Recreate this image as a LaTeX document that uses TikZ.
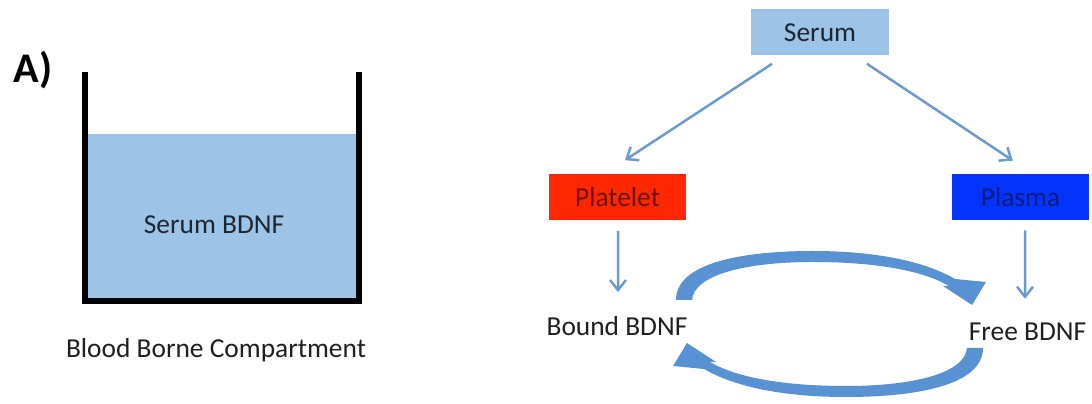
\documentclass[tikz,border=0pt]{standalone}
\usepackage{fontspec}
\setmainfont{Carlito}
\definecolor{mSerum}{HTML}{9DC3E6}
\definecolor{mRed}{HTML}{FF2600}
\definecolor{mBlue}{HTML}{0433FF}
\definecolor{mRedText}{HTML}{6A1400}
\definecolor{mBlueText}{HTML}{0A1D7A}
\definecolor{mDark}{HTML}{1C2633}
\definecolor{mLink}{HTML}{6A9AD0}
\definecolor{mCycle}{HTML}{5892D3}
\usetikzlibrary{positioning,arrows.meta,calc}

\begin{document}
\begin{tikzpicture}[x=0.02cm, y=-0.02cm, font=\fontsize{15.6}{19}\selectfont,
  box/.style={minimum width=2.76cm, minimum height=0.92cm, inner sep=0pt},
  lbl/.style={inner sep=0pt, text=black!88},
  link/.style={draw=mLink, line width=0.05cm, -{Straight Barb[length=0.2cm, width=0.32cm]}},
  cyc/.style={fill=mCycle, draw=none}]
\useasboundingbox (0,0) rectangle (1092,404);
% blood borne compartment
\fill[mSerum] (88,134) rectangle (356,299);
\draw[line width=0.12cm, miter limit=4] (85,72) -- (85,301.5) -- (359,301.5) -- (359,72);
\node[font=\fontsize{24}{28}\selectfont\bfseries] (lab) at (33,70) {A)};
\node[lbl, text=mDark] (sbdnf) at (214,225) {Serum BDNF};
\node[lbl] (comp) at (216,350) {Blood Borne Compartment};
% serum split
\node[box, fill=mSerum, text=mDark] (serum) at (820,32.5) {Serum};
\node[box, fill=mRed, text=mRedText] (platelet) at (617.5,197.5) {Platelet};
\node[box, fill=mBlue, text=mBlueText] (plasma) at (1020.5,197) {Plasma};
\node[lbl] (bound) at (617,326) {Bound BDNF};
\node[lbl] (free) at (1027.5,332) {Free BDNF};
\draw[link] ($(serum.south)+(-48,8)$) -- ($(platelet.north)+(7.5,-14)$);
\draw[link] ($(serum.south)+(47,8)$) -- ($(plasma.north)+(-7.5,-13)$);
\draw[link] ($(platelet.south)+(0.5,10)$) -- ($(bound.north)+(1,-24)$);
\draw[link] ($(plasma.south)+(4.5,10)$) -- ($(free.north)+(-2.5,-24)$);
% exchange
\fill[cyc] (676,300) .. controls (676,262) and (745,251) .. (813,251)
  .. controls (878,251) and (926,262) .. (955,279)
  -- (986,282) -- (972,305) -- (943,286) -- (949,286)
  .. controls (922,270) and (873,262) .. (813,262)
  .. controls (745,262) and (694,275) .. (692,300) -- cycle;
\fill[cyc, rotate around={180:(829.5,324)}] (676,300) .. controls (676,262) and (745,251) .. (813,251)
  .. controls (878,251) and (926,262) .. (955,279)
  -- (986,282) -- (972,305) -- (943,286) -- (949,286)
  .. controls (922,270) and (873,262) .. (813,262)
  .. controls (745,262) and (694,275) .. (692,300) -- cycle;
\end{tikzpicture}
\end{document}
